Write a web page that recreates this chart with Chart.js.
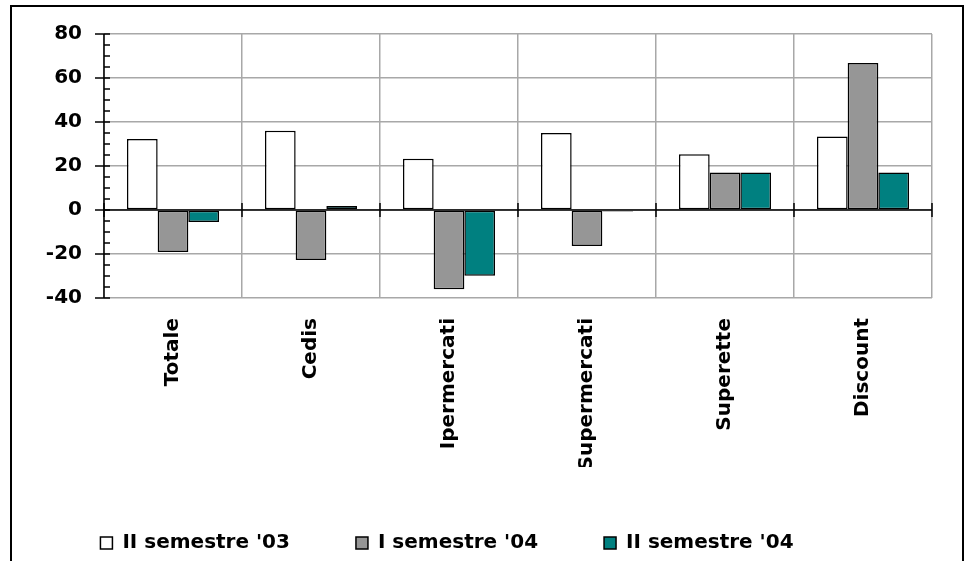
<!DOCTYPE html>
<html>
<head>
<meta charset="utf-8">
<script src="https://cdn.jsdelivr.net/npm/chart.js@4/dist/chart.umd.min.js"></script>
<style>
  html, body { margin: 0; padding: 0; background: #fff; width: 970px; height: 561px; overflow: hidden; }
  #frame { position: absolute; left: 10px; top: 5px; width: 950px; height: 620px; border: 2px solid #000; }
  #wrap { position: absolute; left: 0; top: 0; width: 970px; height: 561px; }
</style>
</head>
<body>
<div id="frame"></div>
<div id="wrap"><canvas id="c" width="970" height="561"></canvas></div>
<script>
// Variazioni percentuali per canale
const categories = ['Totale', 'Cedis', 'Ipermercati', 'Supermercati', 'Superette', 'Discount'];
const seriesNames = ["II semestre '03", "I semestre '04", "II semestre '04"];
const sem2_03 = [32.3, 36.0, 23.3, 35.0, 25.3, 33.4];
const sem1_04 = [-19.1, -22.7, -36.0, -16.4, 17.0, 66.8];
const sem2_04 = [-5.5, 1.8, -29.9, -0.7, 17.0, 17.0];
const yTicks = { min: -40, max: 80, step: 20, minorStep: 5 };

const FONT = { family: 'DejaVu Sans', size: 20, weight: 'bold' };
const LEGEND_SHIFT = -35;

// Black value axis with major/minor ticks and zero line with category ticks
const axesPlugin = {
  id: 'axesPlugin',
  afterLayout(chart) {
    const lg = chart.legend;
    if (lg) { lg.left += LEGEND_SHIFT; lg.right += LEGEND_SHIFT; }
  },
  afterDatasetsDraw(chart) {
    const { ctx, chartArea: a, scales: { x, y } } = chart;
    ctx.save();
    ctx.strokeStyle = '#000';
    ctx.lineWidth = 1.5;
    const line = (x1, y1, x2, y2) => { ctx.beginPath(); ctx.moveTo(x1, y1); ctx.lineTo(x2, y2); ctx.stroke(); };
    const ax = a.left;
    line(ax, a.top, ax, a.bottom);
    for (let v = yTicks.min; v <= yTicks.max; v += yTicks.minorStep) {
      const py = y.getPixelForValue(v);
      const major = v % yTicks.step === 0;
      line(major ? ax - 9 : ax, py, ax + 6, py);
    }
    const y0 = y.getPixelForValue(0);
    line(a.left, y0, a.right, y0);
    for (let i = 0; i <= categories.length; i++) {
      const bx = x.getPixelForValue(i - 0.5);
      line(bx, y0 - 7, bx, y0 + 7);
    }
    ctx.restore();
  }
};

const barStyle = { borderColor: '#000', borderWidth: 1.5, borderSkipped: false };

new Chart(document.getElementById('c'), {
  type: 'bar',
  data: {
    labels: categories,
    datasets: [
      { label: seriesNames[0], data: sem2_03, backgroundColor: '#ffffff', ...barStyle },
      { label: seriesNames[1], data: sem1_04, backgroundColor: '#969696', ...barStyle },
      { label: seriesNames[2], data: sem2_04, backgroundColor: '#008080', ...barStyle }
    ]
  },
  options: {
    responsive: false,
    animation: false,
    devicePixelRatio: 1,
    layout: { padding: { left: 32, right: 38, top: 20, bottom: 0 } },
    datasets: { bar: { categoryPercentage: 0.667, barPercentage: 1.0 } },
    scales: {
      x: {
        grid: { color: '#a8a8a8', lineWidth: 1.5, drawTicks: false, offset: true },
        border: { display: false },
        ticks: { color: '#000', font: FONT, minRotation: 90, maxRotation: 90, padding: 20, autoSkip: false },
        afterFit: (s) => { s.height = 169; }
      },
      y: {
        min: yTicks.min, max: yTicks.max,
        grid: { color: '#a8a8a8', lineWidth: 1.5, drawTicks: false },
        border: { display: false },
        ticks: { stepSize: yTicks.step, color: '#000', font: FONT, padding: 22 },
        afterFit: (s) => { s.width = 72; }
      }
    },
    plugins: {
      legend: {
        position: 'bottom',
        maxHeight: 94,
        labels: { color: '#000', font: FONT, boxWidth: 12, boxHeight: 12, padding: 66 }
      },
      tooltip: { enabled: false }
    }
  },
  plugins: [axesPlugin]
});
</script>
</body>
</html>
